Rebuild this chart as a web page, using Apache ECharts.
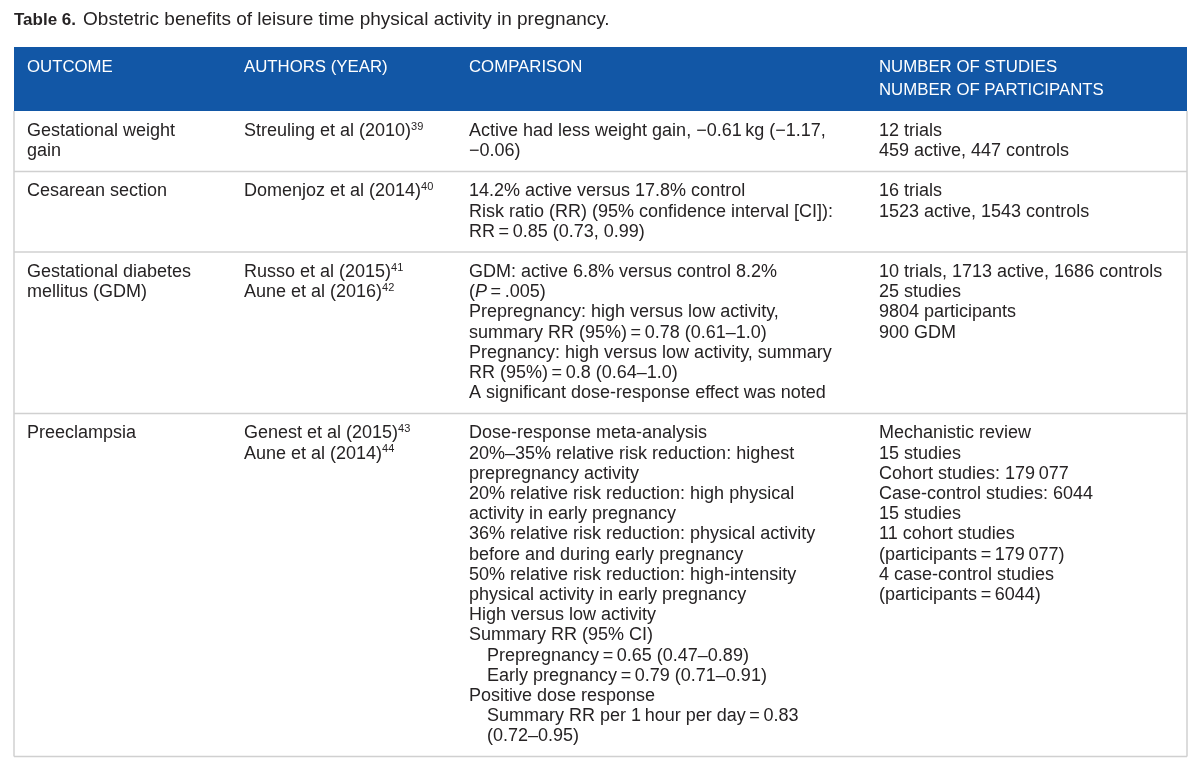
<!DOCTYPE html>
<html>
<head>
<meta charset="utf-8">
<script src="https://cdn.jsdelivr.net/npm/echarts@6/dist/echarts.min.js"></script>
<style>
html,body{margin:0;padding:0;background:#fff;}
#chart{width:1200px;height:770px;}
</style>
</head>
<body>
<div id="chart"></div>
<script>
// ---------- DATA ----------
const titleBold = 'Table 6.';
const titleText = 'Obstetric benefits of leisure time physical activity in pregnancy.';

const headers = [
  ['OUTCOME'],
  ['AUTHORS (YEAR)'],
  ['COMPARISON'],
  ['NUMBER OF STUDIES', 'NUMBER OF PARTICIPANTS']
];

const outcomes = [
  ['Gestational weight', 'gain'],
  ['Cesarean section'],
  ['Gestational diabetes', 'mellitus (GDM)'],
  ['Preeclampsia']
];

const authors = [
  ['Streuling et al (2010){sup|39}'],
  ['Domenjoz et al (2014){sup|40}'],
  ['Russo et al (2015){sup|41}', 'Aune et al (2016){sup|42}'],
  ['Genest et al (2015){sup|43}', 'Aune et al (2014){sup|44}']
];

const comparisons = [
  ['Active had less weight gain, \u22120.61\u2009kg (\u22121.17,', '\u22120.06)'],
  ['14.2% active versus 17.8% control',
   'Risk ratio (RR) (95% confidence interval [CI]):',
   'RR\u2009=\u20090.85 (0.73, 0.99)'],
  ['GDM: active 6.8% versus control 8.2%',
   '({it|P}\u2009=\u2009.005)',
   'Prepregnancy: high versus low activity,',
   'summary RR (95%)\u2009=\u20090.78 (0.61\u20131.0)',
   'Pregnancy: high versus low activity, summary',
   'RR (95%)\u2009=\u20090.8 (0.64\u20131.0)',
   'A significant dose-response effect was noted'],
  ['Dose-response meta-analysis',
   '20%\u201335% relative risk reduction: highest',
   'prepregnancy activity',
   '20% relative risk reduction: high physical',
   'activity in early pregnancy',
   '36% relative risk reduction: physical activity',
   'before and during early pregnancy',
   '50% relative risk reduction: high-intensity',
   'physical activity in early pregnancy',
   'High versus low activity',
   'Summary RR (95% CI)',
   '{ind|}Prepregnancy\u2009=\u20090.65 (0.47\u20130.89)',
   '{ind|}Early pregnancy\u2009=\u20090.79 (0.71\u20130.91)',
   'Positive dose response',
   '{ind|}Summary RR per 1\u2009hour per day\u2009=\u20090.83',
   '{ind|}(0.72\u20130.95)']
];

const counts = [
  ['12 trials', '459 active, 447 controls'],
  ['16 trials', '1523 active, 1543 controls'],
  ['10 trials, 1713 active, 1686 controls', '25 studies', '9804 participants', '900 GDM'],
  ['Mechanistic review', '15 studies', 'Cohort studies: 179\u2009077',
   'Case-control studies: 6044', '15 studies', '11 cohort studies',
   '(participants\u2009=\u2009179\u2009077)', '4 case-control studies',
   '(participants\u2009=\u20096044)']
];

// ---------- LAYOUT / STYLE ----------
const FONT = '"Liberation Sans", Arial, Helvetica, sans-serif';
const TEXT_COLOR = '#262324';
const BLUE = '#1257a6';
const GRID = '#d0d0d0';
const tableLeft = 14, tableRight = 1187;
const headerTop = 47, headerBottom = 111;
const colX = [27, 244, 469, 879];
const lineH = 20.2, padV = 10;
const fontSize = 18;
const headerFontSize = 16.8;

const rich = {
  sup: {fontSize: 11, lineHeight: 12, verticalAlign: 'top', fill: TEXT_COLOR, fontFamily: FONT},
  it: {fontStyle: 'italic', fontSize: fontSize, fontFamily: FONT, fill: TEXT_COLOR},
  ind: {width: 18}
};

const chart = echarts.init(document.getElementById('chart'), null, {renderer: 'canvas'});
const elements = [];

// title
elements.push({
  type: 'text', x: 14, y: 20,
  style: {
    text: '{b|' + titleBold + '}{g|}' + titleText,
    fontSize: 19, fontFamily: FONT, fill: TEXT_COLOR, verticalAlign: 'middle',
    rich: {
      b: {fontWeight: 'bold', fontSize: 17, fontFamily: FONT, fill: TEXT_COLOR},
      g: {width: 7}
    }
  }
});

// header band
elements.push({
  type: 'rect', shape: {x: tableLeft, y: headerTop, width: tableRight - tableLeft, height: headerBottom - headerTop},
  style: {fill: BLUE}
});
headers.forEach((h, c) => {
  elements.push({
    type: 'text', x: colX[c], y: headerTop + 9,
    style: {text: h.join('\n'), fontSize: headerFontSize, fontFamily: FONT, fill: '#ffffff', lineHeight: 23, verticalAlign: 'top'}
  });
});

// body rows
const columns = [outcomes, authors, comparisons, counts];
let rowTop = headerBottom;
for (let r = 0; r < outcomes.length; r++) {
  const nLines = Math.max(...columns.map(col => col[r].length));
  const rowH = nLines * lineH + 2 * padV;
  columns.forEach((col, c) => {
    elements.push({
      type: 'text', x: colX[c], y: rowTop + padV,
      style: {
        text: col[r].join('\n'), fontSize: fontSize, fontFamily: FONT, fill: TEXT_COLOR,
        lineHeight: lineH, verticalAlign: 'top', rich: rich
      }
    });
  });
  rowTop += rowH;
  elements.push({
    type: 'line', shape: {x1: tableLeft, y1: rowTop, x2: tableRight, y2: rowTop},
    style: {stroke: GRID, lineWidth: 1.5}
  });
}
// outer vertical borders
[tableLeft, tableRight].forEach(x => {
  elements.push({
    type: 'line', shape: {x1: x, y1: headerBottom, x2: x, y2: rowTop},
    style: {stroke: GRID, lineWidth: 1.5}
  });
});

chart.setOption({
  animation: false,
  backgroundColor: '#ffffff',
  graphic: {elements: elements}
});
</script>
</body>
</html>
